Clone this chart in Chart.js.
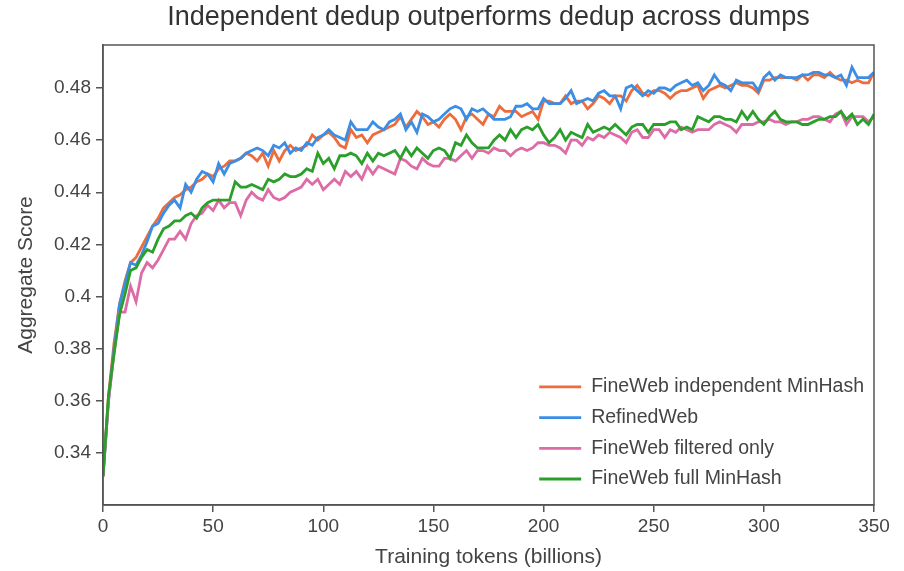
<!DOCTYPE html>
<html>
<head>
<meta charset="utf-8">
<script src="https://cdn.jsdelivr.net/npm/chart.js@4.4.1/dist/chart.umd.min.js"></script>
<style>
  html, body { margin: 0; padding: 0; background: #fff; }
  #wrap { width: 904px; height: 571px; }
</style>
</head>
<body>
<div id="wrap"><canvas id="chart" width="904" height="571"></canvas></div>
<script>
const TITLE = 'Independent dedup outperforms dedup across dumps';

// training tokens (billions), one sample every 2.5B
const tokens = [
  0, 2.5, 5, 7.5, 10, 12.5, 15, 17.5, 20, 22.5,
  25, 27.5, 30, 32.5, 35, 37.5, 40, 42.5, 45, 47.5,
  50, 52.5, 55, 57.5, 60, 62.5, 65, 67.5, 70, 72.5,
  75, 77.5, 80, 82.5, 85, 87.5, 90, 92.5, 95, 97.5,
  100, 102.5, 105, 107.5, 110, 112.5, 115, 117.5, 120, 122.5,
  125, 127.5, 130, 132.5, 135, 137.5, 140, 142.5, 145, 147.5,
  150, 152.5, 155, 157.5, 160, 162.5, 165, 167.5, 170, 172.5,
  175, 177.5, 180, 182.5, 185, 187.5, 190, 192.5, 195, 197.5,
  200, 202.5, 205, 207.5, 210, 212.5, 215, 217.5, 220, 222.5,
  225, 227.5, 230, 232.5, 235, 237.5, 240, 242.5, 245, 247.5,
  250, 252.5, 255, 257.5, 260, 262.5, 265, 267.5, 270, 272.5,
  275, 277.5, 280, 282.5, 285, 287.5, 290, 292.5, 295, 297.5,
  300, 302.5, 305, 307.5, 310, 312.5, 315, 317.5, 320, 322.5,
  325, 327.5, 330, 332.5, 335, 337.5, 340, 342.5, 345, 347.5,
  350
];

const independentMinHash = [
  0.331, 0.362, 0.382, 0.397, 0.406, 0.413, 0.415, 0.419, 0.423, 0.427,
  0.430, 0.434, 0.436, 0.438, 0.439, 0.441, 0.442, 0.444, 0.445, 0.447,
  0.446, 0.449, 0.450, 0.452, 0.452, 0.453, 0.455, 0.454, 0.452, 0.455,
  0.450, 0.456, 0.452, 0.456, 0.458, 0.456, 0.457, 0.458, 0.462, 0.460,
  0.462, 0.463, 0.461, 0.458, 0.457, 0.464, 0.461, 0.462, 0.459, 0.462,
  0.463, 0.464, 0.465, 0.466, 0.469, 0.465, 0.468, 0.471, 0.469, 0.466,
  0.467, 0.465, 0.468, 0.470, 0.468, 0.464, 0.469, 0.470, 0.468, 0.466,
  0.470, 0.469, 0.473, 0.471, 0.471, 0.471, 0.469, 0.470, 0.471, 0.468,
  0.475, 0.475, 0.474, 0.474, 0.477, 0.474, 0.475, 0.475, 0.472, 0.474,
  0.477, 0.476, 0.474, 0.477, 0.477, 0.475, 0.479, 0.481, 0.478, 0.477,
  0.479, 0.479, 0.478, 0.476, 0.478, 0.479, 0.479, 0.480, 0.481, 0.476,
  0.479, 0.480, 0.481, 0.480, 0.481, 0.482, 0.481, 0.481, 0.480, 0.478,
  0.483, 0.483, 0.484, 0.484, 0.484, 0.484, 0.483, 0.485, 0.483, 0.485,
  0.485, 0.484, 0.486, 0.484, 0.483, 0.483, 0.482, 0.483, 0.482, 0.482,
  0.486
];

const refinedWeb = [
  0.331, 0.360, 0.380, 0.397, 0.405, 0.413, 0.412, 0.416, 0.421, 0.427,
  0.428, 0.432, 0.435, 0.437, 0.434, 0.443, 0.440, 0.445, 0.448, 0.447,
  0.444, 0.451, 0.447, 0.451, 0.452, 0.453, 0.455, 0.456, 0.457, 0.456,
  0.454, 0.458, 0.457, 0.459, 0.455, 0.457, 0.456, 0.459, 0.458, 0.461,
  0.462, 0.464, 0.462, 0.461, 0.460, 0.467, 0.464, 0.464, 0.464, 0.467,
  0.465, 0.464, 0.467, 0.468, 0.470, 0.464, 0.467, 0.463, 0.470, 0.469,
  0.467, 0.468, 0.470, 0.472, 0.473, 0.472, 0.468, 0.472, 0.471, 0.472,
  0.470, 0.468, 0.468, 0.468, 0.469, 0.473, 0.473, 0.474, 0.472, 0.472,
  0.476, 0.474, 0.474, 0.474, 0.476, 0.479, 0.474, 0.475, 0.476, 0.475,
  0.478, 0.479, 0.477, 0.477, 0.472, 0.480, 0.481, 0.479, 0.477, 0.479,
  0.478, 0.480, 0.480, 0.479, 0.481, 0.482, 0.483, 0.481, 0.482, 0.479,
  0.481, 0.485, 0.482, 0.481, 0.479, 0.483, 0.482, 0.482, 0.482, 0.479,
  0.484, 0.486, 0.483, 0.485, 0.484, 0.484, 0.484, 0.485, 0.485, 0.486,
  0.486, 0.485, 0.485, 0.484, 0.485, 0.481, 0.488, 0.484, 0.484, 0.484,
  0.486
];

const filteredOnly = [
  0.331, 0.360, 0.378, 0.394, 0.394, 0.404, 0.398, 0.409, 0.413, 0.411,
  0.414, 0.418, 0.422, 0.422, 0.425, 0.422, 0.428, 0.431, 0.432, 0.435,
  0.433, 0.437, 0.434, 0.436, 0.436, 0.431, 0.437, 0.440, 0.438, 0.437,
  0.441, 0.438, 0.437, 0.438, 0.440, 0.441, 0.442, 0.445, 0.443, 0.445,
  0.441, 0.443, 0.445, 0.443, 0.448, 0.446, 0.448, 0.445, 0.450, 0.447,
  0.450, 0.449, 0.448, 0.447, 0.453, 0.452, 0.450, 0.449, 0.453, 0.451,
  0.450, 0.450, 0.453, 0.453, 0.452, 0.454, 0.456, 0.453, 0.456, 0.456,
  0.455, 0.457, 0.456, 0.456, 0.454, 0.456, 0.457, 0.456, 0.457, 0.459,
  0.459, 0.458, 0.458, 0.457, 0.455, 0.460, 0.460, 0.458, 0.461, 0.460,
  0.462, 0.461, 0.463, 0.462, 0.461, 0.459, 0.463, 0.464, 0.461, 0.461,
  0.464, 0.464, 0.461, 0.464, 0.463, 0.465, 0.464, 0.463, 0.464, 0.464,
  0.464, 0.466, 0.467, 0.466, 0.465, 0.463, 0.466, 0.466, 0.466, 0.467,
  0.467, 0.468, 0.467, 0.467, 0.466, 0.467, 0.467, 0.468, 0.468, 0.469,
  0.469, 0.468, 0.467, 0.470, 0.471, 0.466, 0.469, 0.469, 0.469, 0.467,
  0.469
];

const fullMinHash = [
  0.331, 0.362, 0.378, 0.393, 0.401, 0.410, 0.411, 0.415, 0.418, 0.417,
  0.422, 0.426, 0.427, 0.429, 0.429, 0.431, 0.432, 0.430, 0.434, 0.436,
  0.437, 0.437, 0.437, 0.437, 0.444, 0.442, 0.442, 0.443, 0.442, 0.441,
  0.445, 0.444, 0.445, 0.447, 0.446, 0.446, 0.447, 0.449, 0.448, 0.455,
  0.451, 0.453, 0.449, 0.454, 0.454, 0.455, 0.454, 0.451, 0.455, 0.452,
  0.455, 0.454, 0.455, 0.456, 0.453, 0.457, 0.454, 0.457, 0.455, 0.453,
  0.456, 0.457, 0.456, 0.453, 0.459, 0.458, 0.462, 0.459, 0.457, 0.457,
  0.457, 0.460, 0.462, 0.460, 0.464, 0.461, 0.464, 0.465, 0.464, 0.466,
  0.462, 0.459, 0.461, 0.464, 0.460, 0.463, 0.462, 0.461, 0.466, 0.463,
  0.464, 0.465, 0.464, 0.466, 0.464, 0.462, 0.465, 0.466, 0.466, 0.463,
  0.466, 0.466, 0.466, 0.467, 0.467, 0.464, 0.465, 0.464, 0.469, 0.468,
  0.467, 0.469, 0.469, 0.468, 0.468, 0.467, 0.471, 0.468, 0.471, 0.468,
  0.466, 0.469, 0.471, 0.468, 0.467, 0.467, 0.467, 0.466, 0.466, 0.467,
  0.468, 0.468, 0.469, 0.469, 0.471, 0.468, 0.470, 0.466, 0.468, 0.466,
  0.470
];

const seriesNames = ['FineWeb independent MinHash', 'RefinedWeb', 'FineWeb filtered only', 'FineWeb full MinHash'];
const seriesColors = ['#ee6c3b', '#3a8ee6', '#dd6ba6', '#2a9f2a'];
const seriesValues = [independentMinHash, refinedWeb, filteredOnly, fullMinHash];

const yTicks = [0.34, 0.36, 0.38, 0.40, 0.42, 0.44, 0.46, 0.48];

const FONT = '"Liberation Sans", Arial, sans-serif';
const AXIS_COLOR = '#555';
const TEXT_COLOR = '#444';

// title, top/right frame and the legend inside the plot
const extrasPlugin = {
  id: 'extras',
  afterDraw(chart) {
    const { ctx, chartArea: a } = chart;
    ctx.save();
    ctx.strokeStyle = AXIS_COLOR;
    ctx.lineWidth = 1.5;
    ctx.strokeRect(a.left, a.top, a.right - a.left, a.bottom - a.top);

    ctx.fillStyle = '#333';
    ctx.font = '27px ' + FONT;
    ctx.textAlign = 'center';
    ctx.textBaseline = 'middle';
    ctx.fillText(TITLE, (a.left + a.right) / 2, 18);

    ctx.font = '19.5px ' + FONT;
    ctx.textAlign = 'left';
    const maxW = Math.max(...seriesNames.map(n => ctx.measureText(n).width));
    const textX = a.right - 10 - maxW;
    const n = seriesNames.length;
    seriesNames.forEach((name, i) => {
      const y = a.bottom - 26 - (n - 1 - i) * 30.7;
      ctx.strokeStyle = seriesColors[i];
      ctx.lineWidth = 2.8;
      ctx.beginPath();
      ctx.moveTo(textX - 52, y);
      ctx.lineTo(textX - 10, y);
      ctx.stroke();
      ctx.fillStyle = TEXT_COLOR;
      ctx.fillText(name, textX, y);
    });
    ctx.restore();
  }
};

const datasets = seriesNames.map((name, i) => ({
  label: name,
  data: tokens.map((t, j) => ({ x: t, y: seriesValues[i][j] })),
  borderColor: seriesColors[i],
  backgroundColor: seriesColors[i],
  borderWidth: 2.8,
  pointRadius: 0,
  tension: 0,
  order: seriesNames.length - i
}));

new Chart(document.getElementById('chart'), {
  type: 'line',
  data: { datasets },
  plugins: [extrasPlugin],
  options: {
    responsive: false,
    animation: false,
    devicePixelRatio: 1,
    layout: { padding: { top: 45, right: 30, bottom: 0, left: 0 } },
    plugins: {
      legend: { display: false },
      title: { display: false },
      tooltip: { enabled: false }
    },
    scales: {
      x: {
        type: 'linear',
        min: 0,
        max: 350,
        afterFit(scale) { scale.height = 66; },
        ticks: { stepSize: 50, color: TEXT_COLOR, font: { family: FONT, size: 19 }, padding: 3, maxRotation: 0 },
        grid: { drawOnChartArea: false, drawTicks: true, tickLength: 7, color: AXIS_COLOR, lineWidth: 1.5 },
        border: { color: AXIS_COLOR, width: 1.5 },
        title: {
          display: true,
          text: 'Training tokens (billions)',
          color: TEXT_COLOR,
          font: { family: FONT, size: 21, lineHeight: 1.2 },
          padding: { top: 0, bottom: 1 }
        }
      },
      y: {
        min: 0.32,
        max: 0.4965,
        afterFit(scale) { scale.width = 103; },
        afterBuildTicks(scale) { scale.ticks = yTicks.map(v => ({ value: v })); },
        ticks: {
          color: TEXT_COLOR,
          font: { family: FONT, size: 19 },
          padding: 5,
          callback: v => String(Number(v.toFixed(2)))
        },
        grid: { drawOnChartArea: false, drawTicks: true, tickLength: 7, color: AXIS_COLOR, lineWidth: 1.5 },
        border: { color: AXIS_COLOR, width: 1.5 },
        title: {
          display: true,
          text: 'Aggregate Score',
          color: TEXT_COLOR,
          font: { family: FONT, size: 21, lineHeight: 1.2 },
          padding: { top: 14, bottom: 0 }
        }
      }
    }
  }
});
</script>
</body>
</html>
